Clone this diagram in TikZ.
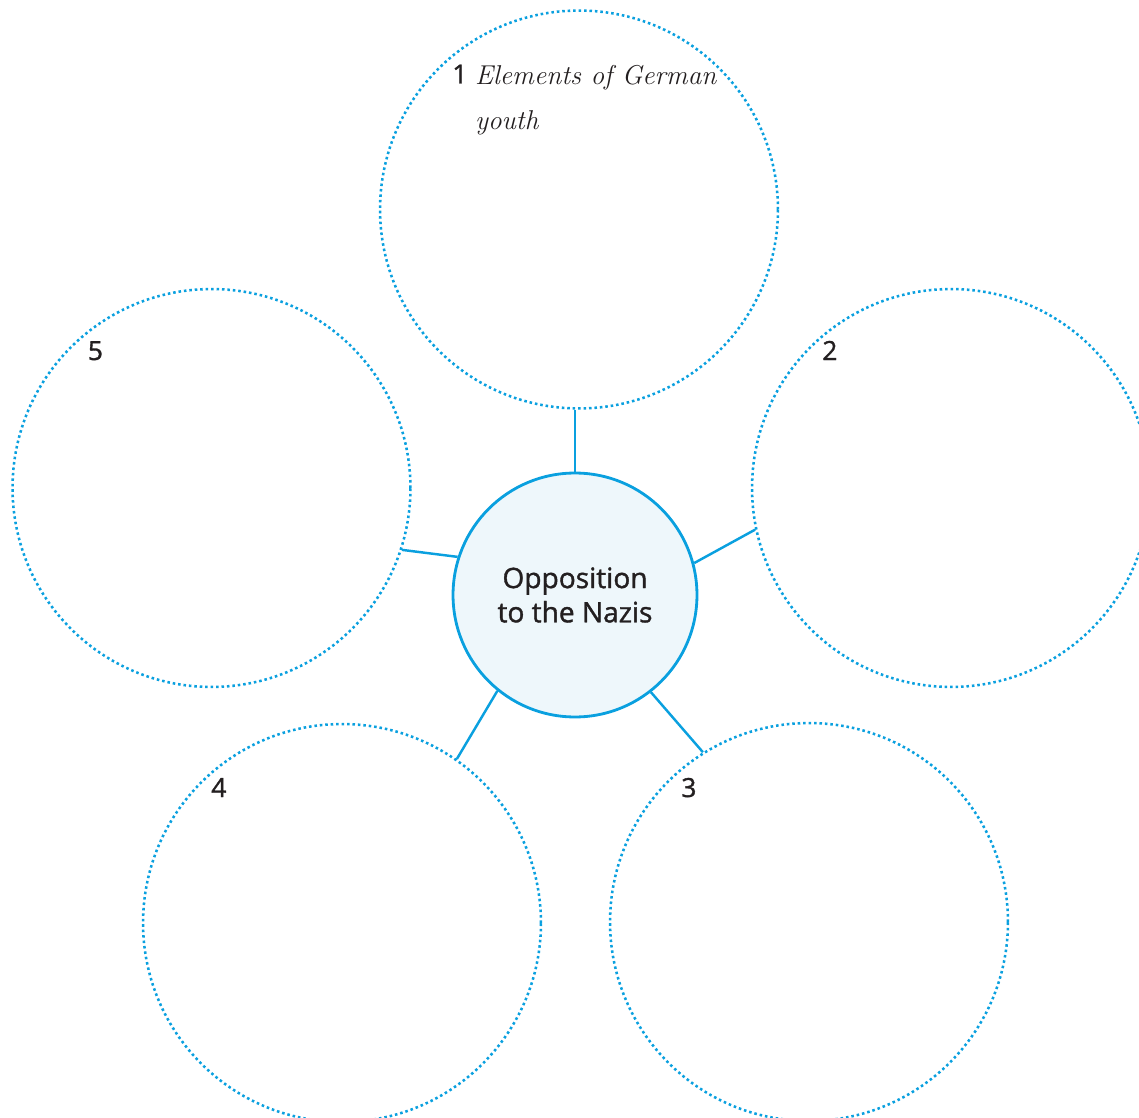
\documentclass[tikz,border=0pt]{standalone}
\usepackage{fontspec}
\newfontfamily\etikett{Open Sans}[FakeBold=1.3]
\usetikzlibrary{positioning}
\definecolor{blau}{HTML}{0AA0DF}
\definecolor{blauhell}{HTML}{EEF7FB}
\definecolor{schrift}{HTML}{231F20}
\tikzset{
  feld/.style={circle,draw=blau,line width=1.45pt,dash pattern=on 1.45pt off 1.65pt,
    minimum size=7.96cm,inner sep=0pt},
  mitte/.style={circle,draw=blau,fill=blauhell,line width=1.6pt,minimum size=4.88cm,
    inner sep=0pt,align=center,text=schrift,font=\etikett\fontsize{16}{19.5}\selectfont},
  nr/.style={anchor=base west,inner sep=0pt,text=schrift,font=\etikett\fontsize{15}{17}\selectfont},
  hand/.style={anchor=base west,inner sep=0pt,align=left,text=schrift,
    font=\rmfamily\itshape\fontsize{15.5}{25.6}\selectfont},
  steg/.style={blau,line width=1.4pt},
}

\begin{document}
\begin{tikzpicture}[x=0.02cm,y=-0.02cm]
  \useasboundingbox (0,0) rectangle (1139,1118);
  \clip (0,0) rectangle (1139,1118);
  % centre and the five outer fields
  \node[mitte] (m) at (575,595) {Opposition\\to the Nazis};
  \node[feld] (f1) at (579,209.5) {};
  \node[feld] (f2) at (951,488) {};
  \node[feld] (f3) at (809,922) {};
  \node[feld] (f4) at (342,923) {};
  \node[feld] (f5) at (211.5,488) {};
  % numbers
  \node[nr] (n1) at ([shift={(-127,-126)}]f1.center) {1};
  \node[nr] (n2) at ([shift={(-129,-128)}]f2.center) {2};
  \node[nr] (n3) at ([shift={(-128,-125)}]f3.center) {3};
  \node[nr] (n4) at ([shift={(-131,-126)}]f4.center) {4};
  \node[nr] (n5) at ([shift={(-124,-128)}]f5.center) {5};
  \node[hand] (t1) at ([shift={(7,46)}]n1.base east) {Elements of German\\youth};
  % spokes
  \draw[steg] (m.north) -- (m.north |- f1.south);
  \draw[steg] (m.15) -- (f2.192.5);
  \draw[steg] (m.308.7) -- (f3.122.2);
  \draw[steg] (m.231.3) -- (f4.55.6);
  \draw[steg] (m.162) -- (f5.342.7);
\end{tikzpicture}
\end{document}
